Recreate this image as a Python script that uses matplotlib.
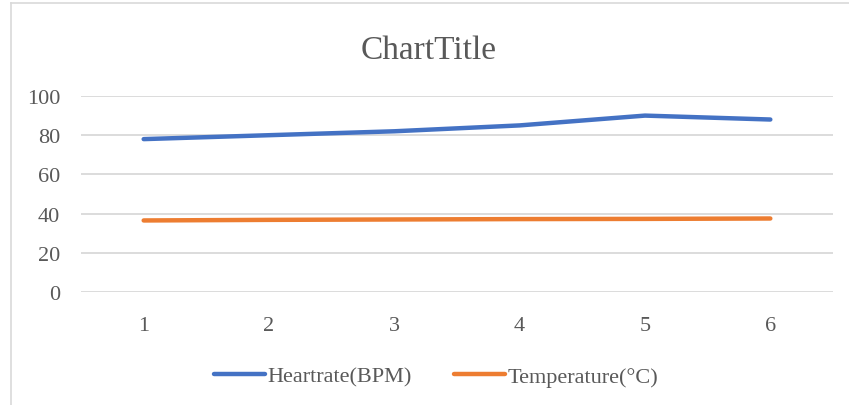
import matplotlib
matplotlib.use("Agg")
import matplotlib.pyplot as plt
from matplotlib.lines import Line2D

plt.rcParams["font.family"] = ["Liberation Serif", "DejaVu Serif"]

TEXT = "#595959"
GRID = "#D9D9D9"
BLUE = "#4472C4"
ORANGE = "#ED7D31"

categories = [1, 2, 3, 4, 5, 6]
heartrate = [78, 80, 82, 85, 90, 88]
temperature = [36.5, 36.8, 37.0, 37.2, 37.3, 37.5]
y_ticks = [0, 20, 40, 60, 80, 100]

fig = plt.figure(figsize=(8.49, 4.06), dpi=100)
ax = fig.add_axes([81 / 849, 1 - 293 / 406, (833 - 81) / 849, (293 - 97) / 406])

ax.plot(categories, heartrate, color=BLUE, lw=3.2, solid_capstyle="round",
        label="Heartrate(BPM)")
ax.plot(categories, temperature, color=ORANGE, lw=3.2, solid_capstyle="round",
        label="Temperature(°C)")

ax.set_xlim(0.5, 6.5)
ax.set_ylim(0, 100)
ax.set_xticks(categories)
ax.set_yticks(y_ticks)
ax.grid(axis="y", color=GRID, lw=1.3)
ax.set_axisbelow(True)
for s in ax.spines.values():
    s.set_visible(False)
ax.tick_params(axis="both", length=0, labelsize=16, labelcolor=TEXT)
ax.tick_params(axis="x", pad=17)
ax.tick_params(axis="y", pad=15)

fig.text(0.505, 0.876, "ChartTitle", ha="center", va="center",
         fontsize=24, color=TEXT)

fig.legend(loc="center", bbox_to_anchor=(0.514, 0.070), ncol=2, frameon=False,
           fontsize=16, handlelength=2.3, handletextpad=0.1, columnspacing=1.9,
           labelcolor=TEXT)

# chart area border (top-left edges visible)
fig.add_artist(Line2D([10.5 / 849, 10.5 / 849], [0, 1 - 3.5 / 406],
                      transform=fig.transFigure, color=GRID, lw=1.2))
fig.add_artist(Line2D([10.5 / 849, 1], [1 - 3.5 / 406, 1 - 3.5 / 406],
                      transform=fig.transFigure, color=GRID, lw=1.2))

fig.savefig("out.png", dpi=100)
